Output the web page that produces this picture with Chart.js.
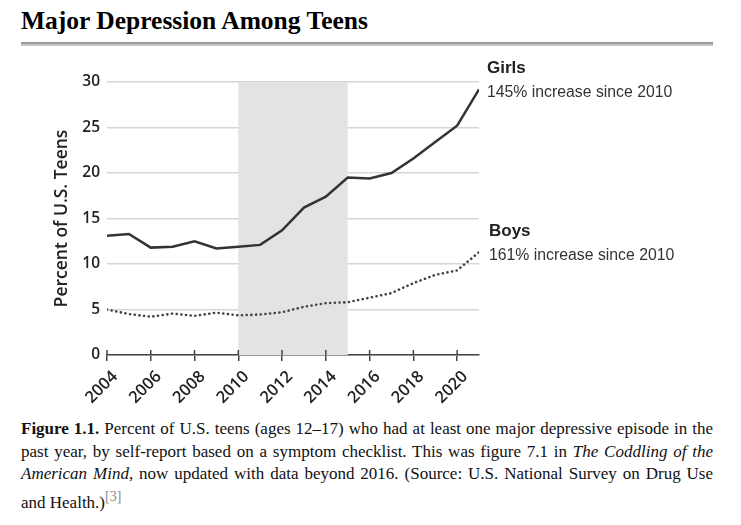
<!DOCTYPE html>
<html lang="en">
<head>
    <meta charset="UTF-8">
    <title>Major Depression Among Teens</title>
    <script src="https://cdn.jsdelivr.net/npm/chart.js"></script>
    <style>
        body {
            margin: 0;
            background: #fff;
            width: 741px;
            height: 525px;
            position: relative;
            overflow: hidden;
        }
        #title {
            position: absolute;
            left: 21px;
            top: 6px;
            margin: 0;
            font-family: 'Liberation Serif', 'Times New Roman', serif;
            font-weight: bold;
            font-size: 25.5px;
            line-height: 30px;
            color: #000;
        }
        #rule {
            position: absolute;
            left: 21px;
            top: 42px;
            width: 692px;
            height: 0;
            border-top: 2px solid #9a9a9a;
            border-bottom: 2px solid #c6c6c6;
        }
        #chart-box {
            position: absolute;
            left: 0;
            top: 50px;
            width: 741px;
            height: 360px;
        }
        #caption {
            position: absolute;
            left: 21px;
            top: 418px;
            width: 692px;
            margin: 0;
            font-family: 'Liberation Serif', 'Times New Roman', serif;
            font-size: 17px;
            line-height: 22.7px;
            text-align: justify;
            color: #111;
        }
        #caption sup {
            color: #8a8a8a;
            font-size: 14px;
        }
    </style>
</head>
<body>
    <h1 id="title">Major Depression Among Teens</h1>
    <div id="rule"></div>
    <div id="chart-box">
        <canvas id="teensChart" width="741" height="360"></canvas>
    </div>
    <p id="caption"><b>Figure 1.1.</b> Percent of U.S. teens (ages 12–17) who had at least one major depressive episode in the past year, by self-report based on a symptom checklist. This was figure 7.1 in <i>The Coddling of the American Mind</i>, now updated with data beyond 2016. (Source: U.S. National Survey on Drug Use and Health.)<sup>[3]</sup></p>

    <script>
        // values
        const years = [2004, 2005, 2006, 2007, 2008, 2009, 2010, 2011, 2012, 2013, 2014, 2015, 2016, 2017, 2018, 2019, 2020, 2021];
        const girls = [13.1, 13.3, 11.8, 11.9, 12.5, 11.7, 11.9, 12.1, 13.7, 16.2, 17.4, 19.5, 19.4, 20.0, 21.6, 23.4, 25.2, 29.2];
        const boys  = [5.0, 4.5, 4.2, 4.55, 4.3, 4.65, 4.35, 4.45, 4.7, 5.3, 5.7, 5.8, 6.3, 6.8, 7.9, 8.8, 9.3, 11.3];
        const tickYears = [2004, 2006, 2008, 2010, 2012, 2014, 2016, 2018, 2020];
        const shadedYears = [2010, 2015];
        const seriesNames = ['Girls', 'Boys'];
        const seriesNotes = ['145% increase since 2010', '161% increase since 2010'];

        const TICK_FONT = "'Open Sans', sans-serif";
        const NOTE_FONT = "'Liberation Sans', Arial, sans-serif";

        // grey band behind the lines + the tick stubs above the axis
        const bandPlugin = {
            id: 'band',
            beforeDatasetsDraw(chart) {
                const { ctx, chartArea, scales } = chart;
                const x0 = scales.x.getPixelForValue(shadedYears[0]);
                const x1 = scales.x.getPixelForValue(shadedYears[1]);
                ctx.save();
                ctx.fillStyle = '#e3e3e3';
                ctx.fillRect(x0, chartArea.top, x1 - x0, chartArea.bottom - chartArea.top);
                ctx.restore();
            },
            afterDraw(chart) {
                const { ctx, chartArea, scales } = chart;
                ctx.save();
                ctx.strokeStyle = '#444';
                ctx.lineWidth = 1.5;
                scales.x.ticks.forEach(t => {
                    const x = scales.x.getPixelForValue(t.value);
                    ctx.beginPath();
                    ctx.moveTo(x, chartArea.bottom);
                    ctx.lineTo(x, chartArea.bottom - 5);
                    ctx.stroke();
                });
                ctx.restore();
            }
        };

        // end-of-line labels, anchored to each line's last point
        const endLabelPlugin = {
            id: 'endLabels',
            afterDatasetsDraw(chart) {
                const { ctx, chartArea, scales } = chart;
                const offsets = [8, 10];
                ctx.save();
                ctx.textAlign = 'left';
                ctx.textBaseline = 'alphabetic';
                chart.data.datasets.forEach((ds, i) => {
                    const last = ds.data[ds.data.length - 1];
                    const y = scales.y.getPixelForValue(last.y);
                    const x = chartArea.right + offsets[i];
                    ctx.fillStyle = '#222';
                    ctx.font = 'bold 17px ' + NOTE_FONT;
                    ctx.fillText(seriesNames[i], x, y - 16);
                    ctx.fillStyle = '#333';
                    ctx.font = '15.8px ' + NOTE_FONT;
                    ctx.fillText(seriesNotes[i], x, y + 7.5);
                });
                ctx.restore();
            }
        };

        const toPoints = vals => years.map((yr, i) => ({ x: yr, y: vals[i] }));

        new Chart(document.getElementById('teensChart'), {
            type: 'line',
            data: {
                datasets: [
                    {
                        label: seriesNames[0],
                        data: toPoints(girls),
                        borderColor: '#333',
                        borderWidth: 2.5,
                        pointRadius: 0,
                        tension: 0
                    },
                    {
                        label: seriesNames[1],
                        data: toPoints(boys),
                        borderColor: '#444',
                        borderWidth: 2.6,
                        borderDash: [0.1, 4.6],
                        borderCapStyle: 'round',
                        pointRadius: 0,
                        tension: 0
                    }
                ]
            },
            options: {
                responsive: false,
                animation: false,
                layout: { padding: { top: 32, right: 262, left: 0, bottom: 0 } },
                plugins: {
                    legend: { display: false },
                    tooltip: { enabled: false }
                },
                scales: {
                    x: {
                        type: 'linear',
                        min: 2004,
                        max: 2021,
                        afterFit(scale) { scale.height = 55; },
                        afterBuildTicks(scale) {
                            scale.ticks = tickYears.map(v => ({ value: v }));
                        },
                        ticks: {
                            minRotation: 45,
                            maxRotation: 45,
                            padding: 6,
                            labelOffset: 8,
                            color: '#222',
                            font: { family: TICK_FONT, size: 16.5, weight: '600' },
                            callback: v => String(v)
                        },
                        grid: {
                            drawOnChartArea: false,
                            drawTicks: true,
                            tickLength: 6,
                            color: '#444',
                            lineWidth: 1.5
                        },
                        border: { display: true, color: '#444', width: 1.5 }
                    },
                    y: {
                        min: 0,
                        max: 30,
                        afterFit(scale) { scale.width = 107; },
                        ticks: {
                            stepSize: 5,
                            padding: 7,
                            color: '#222',
                            font: { family: TICK_FONT, size: 15.5, weight: '600' }
                        },
                        grid: {
                            drawTicks: false,
                            color: '#d6d6d6',
                            lineWidth: 1.5
                        },
                        border: { display: false },
                        title: {
                            display: true,
                            text: 'Percent of U.S. Teens',
                            color: '#222',
                            font: { family: TICK_FONT, size: 17.5, weight: '600' },
                            padding: { top: 52, bottom: 0 }
                        }
                    }
                }
            },
            plugins: [bandPlugin, endLabelPlugin]
        });
    </script>
</body>
</html>
